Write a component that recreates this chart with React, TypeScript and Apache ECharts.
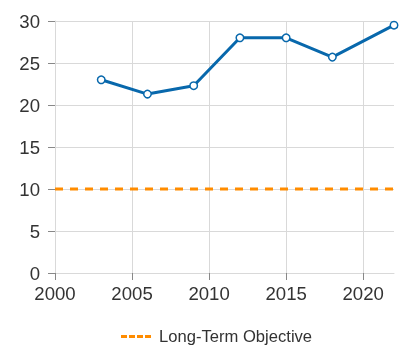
import React, { useEffect, useRef } from "react";
import * as echarts from "echarts";

const years = [2003, 2006, 2009, 2012, 2015, 2018, 2022];
const values = [23.0, 21.3, 22.3, 28.0, 28.0, 25.7, 29.5];
const objectiveYears = [2000, 2022];
const objectiveValues = [10, 10];
const xTickValues = [2000, 2005, 2010, 2015, 2020];
const objectiveName = "Long-Term Objective";

export default function App() {
  const ref = useRef<HTMLDivElement>(null);
  useEffect(() => {
    if (!ref.current) return;
    const chart = echarts.init(ref.current, undefined, { renderer: "svg" });
    const font = "'Liberation Sans', Arial, sans-serif";
    chart.setOption({
      animation: false,
      textStyle: { fontFamily: font },
      grid: { left: 55, right: 26, top: 21, bottom: 81, containLabel: false },
      legend: {
        data: [
          {
            name: objectiveName,
            icon: "path://M0,0h6v3h-6z M8,0h6v3h-6z M16,0h6v3h-6z M24,0h6v3h-6z",
          },
        ],
        left: 116,
        top: 323,
        itemWidth: 30,
        itemHeight: 3,
        itemGap: 10,
        textStyle: { fontSize: 16.6, color: "#333", fontFamily: font, padding: [0, 0, 0, 3] },
      },
      xAxis: {
        type: "value",
        min: 2000,
        max: 2022,
        interval: 5,
        axisLine: { show: true, lineStyle: { color: "#d9d9d9", width: 1 } },
        axisTick: {
          show: true,
          length: 7,
          lineStyle: { color: "#888" },
          customValues: xTickValues,
        },
        axisLabel: {
          fontSize: 18.6,
          color: "#333",
          margin: 11,
          fontFamily: font,
          customValues: xTickValues,
          formatter: (v: number) => String(v),
        },
        splitLine: { show: true, lineStyle: { color: "#d9d9d9", width: 1 } },
      },
      yAxis: {
        type: "value",
        min: 0,
        max: 30,
        interval: 5,
        axisLine: { show: true, lineStyle: { color: "#d9d9d9", width: 1 } },
        axisTick: { show: true, length: 7, lineStyle: { color: "#888" } },
        axisLabel: { fontSize: 18.6, color: "#333", margin: 15, fontFamily: font },
        splitLine: { show: true, lineStyle: { color: "#d9d9d9", width: 1 } },
      },
      series: [
        {
          name: objectiveName,
          type: "line",
          data: objectiveYears.map((y, i) => [y, objectiveValues[i]]),
          symbol: "none",
          itemStyle: { color: "#ff8c00" },
          lineStyle: { color: "#ff8c00", width: 3, type: [8, 7] },
          z: 3,
        },
        {
          name: "Value",
          type: "line",
          data: years.map((y, i) => [y, values[i]]),
          symbol: "circle",
          symbolSize: 7.5,
          itemStyle: { color: "#fff", borderColor: "#0868ac", borderWidth: 1.5 },
          lineStyle: { color: "#0868ac", width: 3 },
          z: 4,
        },
      ],
    });
    return () => chart.dispose();
  }, []);
  return (
    <div
      ref={ref}
      style={{ position: "fixed", left: 0, top: 0, width: 420, height: 354 }}
    />
  );
}
